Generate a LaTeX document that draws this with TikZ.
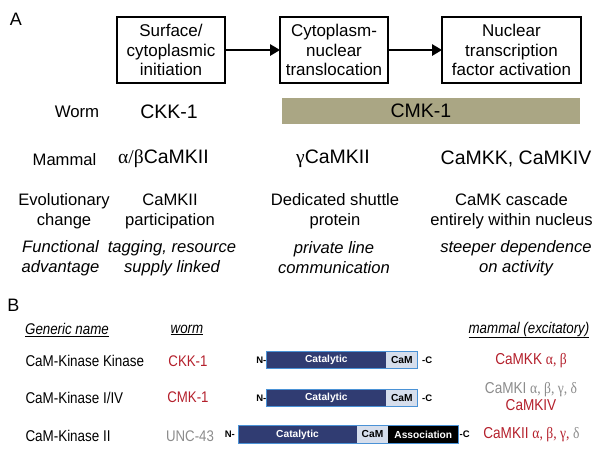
\documentclass[tikz,border=0pt]{standalone}
\usepackage{fontspec}
\setmainfont{Liberation Sans}
\newfontfamily\grk{Liberation Serif}
\newfontfamily\narrowsans[FakeStretch=0.86]{Liberation Sans}
\newfontfamily\narrowgrk[FakeStretch=0.86]{Liberation Serif}
\usetikzlibrary{arrows.meta}
\definecolor{olivebar}{RGB}{170,166,132}
\definecolor{kred}{RGB}{180,32,44}
\definecolor{kgray}{RGB}{140,140,140}
\definecolor{navy}{RGB}{48,60,114}
\definecolor{navyedge}{RGB}{74,146,214}
\definecolor{camfill}{RGB}{214,222,236}
\tikzset{
  stepbox/.style={draw, line width=1.8pt, minimum width=#1, minimum height=66pt, align=center, font=\fontsize{17}{19.5}\selectfont, inner sep=1pt},
  flowarrow/.style={-{Triangle[length=10pt,width=11pt]}, line width=2.6pt, shorten >=-1pt},
  bigname/.style={font=\fontsize{19.5}{22}\selectfont},
  midtxt/.style={font=\fontsize{16.6}{20}\selectfont, align=center},
  ittxt/.style={font=\fontsize{16.6}{20}\selectfont\itshape, align=center},
  hdr/.style={font=\narrowsans\fontsize{15.5}{17}\selectfont\itshape},
  bname/.style={font=\narrowsans\fontsize{15.6}{17}\selectfont, anchor=west},
  wname/.style={font=\narrowsans\fontsize{15.4}{17}\selectfont},
  mname/.style={font=\narrowsans\fontsize{15.8}{17}\selectfont},
  cat/.style={fill=navy, text=white, font=\fontsize{10.2}{12}\selectfont\bfseries, inner sep=0pt},
  cam/.style={fill=camfill, text=black, font=\fontsize{10.2}{12}\selectfont\bfseries, inner sep=0pt},
  assoc/.style={fill=black, text=white, font=\fontsize{10.2}{12}\selectfont\bfseries, inner sep=0pt},
  term/.style={font=\fontsize{9.5}{11}\selectfont\bfseries, inner sep=0pt},
  panel/.style={font=\fontsize{18}{20}\selectfont},
}
\begin{document}
\begin{tikzpicture}[x=1pt,y=-1pt]
\useasboundingbox (0,0) rectangle (602,453);
% Panel A
\node[panel] (A) at (16,19) {A};
\node[stepbox=108pt] (b1) at (171,50) {Surface/\\cytoplasmic\\initiation};
\node[stepbox=108pt] (b2) at (334,50) {Cytoplasm-\\nuclear\\translocation};
\node[stepbox=139pt] (b3) at (511.5,50) {Nuclear\\transcription\\factor activation};
\draw[flowarrow] (b1.east) -- (b2.west);
\draw[flowarrow] (b2.east) -- (b3.west);

\node[font=\fontsize{16.8}{20}\selectfont] (worm) at (77,112) {Worm};
\node[bigname] (ckk) at (169,112) {CKK-1};
\node[fill=olivebar, minimum width=298pt, minimum height=26pt, inner sep=0pt] (cmk) at (431,110.5) {};
\node[bigname] (cmkt) at (421,110.5) {CMK-1};

\node[midtxt] (mammal) at (64.5,160) {Mammal};
\node[bigname] (ab) at (163.5,159) {{\grk α/β}CaMKII};
\node[bigname] (g) at (333,159) {{\grk γ}CaMKII};
\node[bigname] (kk) at (516,158.5) {CaMKK, CaMKIV};

\node[midtxt] (evo) at (64,211.7) {Evolutionary\\change};
\node[midtxt] (e1) at (170,211.7) {CaMKII\\participation};
\node[midtxt] (e2) at (335,211.7) {Dedicated shuttle\\protein};
\node[midtxt] (e3) at (511.5,211.7) {CaMK cascade\\entirely within nucleus};

\node[ittxt] (fa) at (60.5,258) {Functional\\advantage};
\node[ittxt] (f1) at (172,258) {tagging, resource\\supply linked};
\node[ittxt] (f2) at (334,258) {private line\\communication};
\node[ittxt] (f3) at (516,258) {steeper dependence\\on activity};

% Panel B
\node[panel] (B) at (13.5,305) {B};
\node[hdr] (h1) at (67,330) {\underline{Generic name}};
\node[hdr] (h2) at (187,330) {\underline{worm}};
\node[hdr] (h3) at (529,330) {\underline{mammal (excitatory)}};

\node[bname] (n1) at (22,361) {CaM-Kinase Kinase};
\node[bname] (n2) at (22,397.5) {CaM-Kinase I/IV};
\node[bname] (n3) at (22,436) {CaM-Kinase II};

\node[wname, text=kred] (w1) at (188,361) {CKK-1};
\node[wname, text=kred] (w2) at (188,397.5) {CMK-1};
\node[wname, text=kgray] (w3) at (190,436) {UNC-43};

% bars
\foreach \r/\yc in {1/360,2/398}{
  \node[cat, minimum width=119.3pt, minimum height=16.7pt] (c\r) at (326.35,\yc) {Catalytic};
  \node[cam, minimum width=31.7pt, minimum height=16.7pt] (m\r) at (401.85,\yc) {CaM};
  \draw[navyedge, line width=0.9pt] (c\r.north west) rectangle (m\r.south east);
  \node[term, anchor=east] (nt\r) at (c\r.west) {N-};
  \node[term, anchor=west] (ct\r) at ([xshift=4pt]m\r.east) {-C};
}
\node[cat, minimum width=118.4pt, minimum height=16.7pt] (c3) at (297.5,434.4) {Catalytic};
\node[cam, minimum width=31.6pt, minimum height=16.7pt] (m3) at (372.5,434.4) {CaM};
\node[assoc, minimum width=70pt, minimum height=16.7pt] (a3) at (423.3,434.4) {Association};
\draw[navyedge, line width=0.9pt] (c3.north west) rectangle (a3.south east);
\node[term, anchor=east] (nt3) at ([xshift=-3pt]c3.west) {N-};
\node[term, anchor=west] (ct3) at ([xshift=1pt]a3.east) {-C};

\node[mname, text=kred] (k1) at (531,361) {CaMKK {\narrowgrk α, β}};
\node[mname, text=kgray] (k2) at (531,390) {CaMKI {\narrowgrk α, β, γ, δ}};
\node[mname, text=kred] (k2b) at (531,405.5) {CaMKIV};
\node[mname, text=kred] (k3) at (531.5,435) {CaMKII {\narrowgrk α, β, γ,} \textcolor{kgray}{\narrowgrk δ}};
\end{tikzpicture}
\end{document}
